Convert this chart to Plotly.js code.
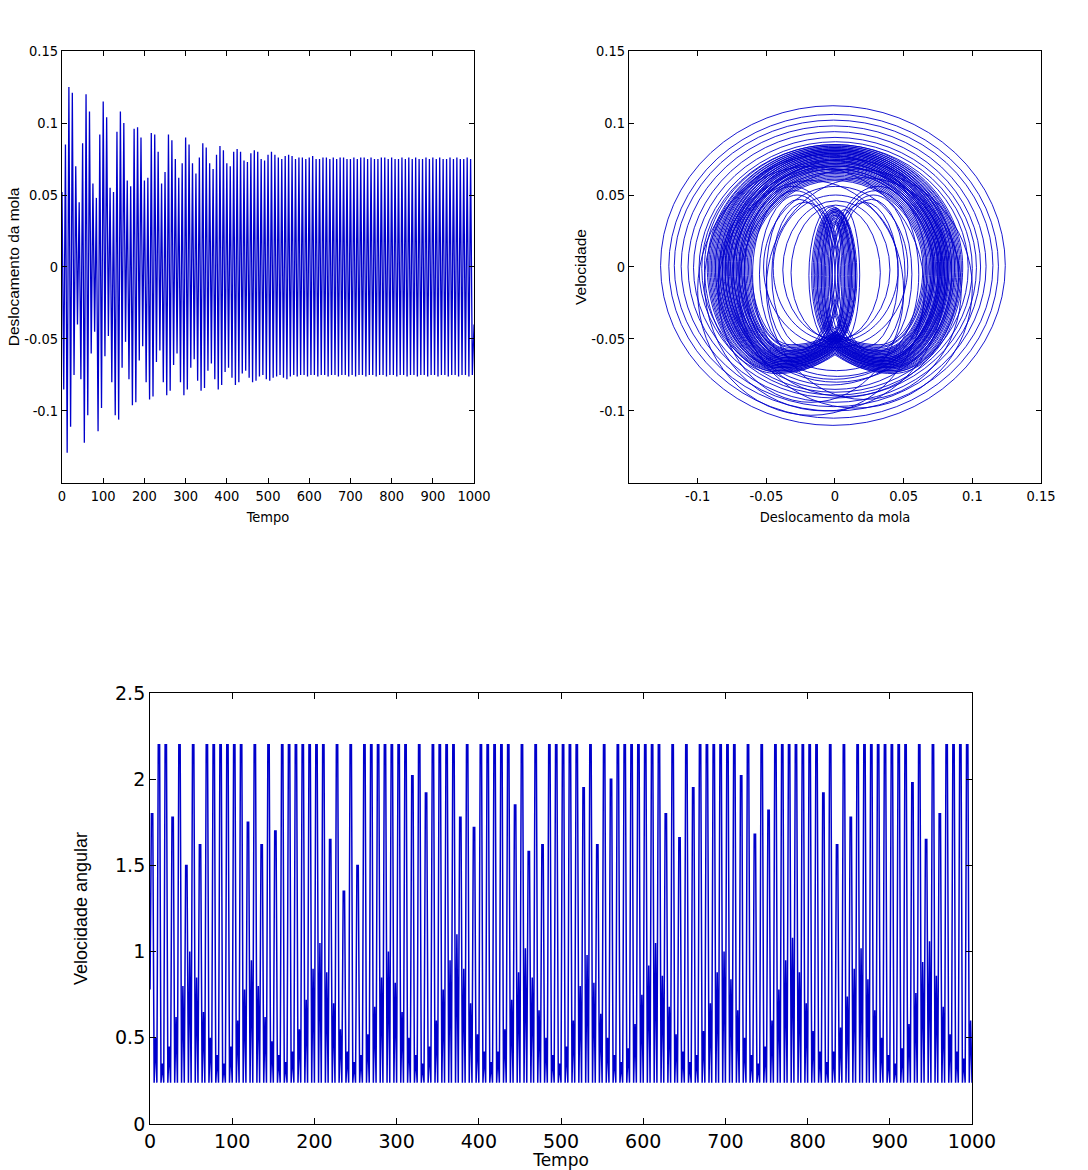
<!DOCTYPE html>
<html><head><meta charset="utf-8">
<script src="https://cdn.plot.ly/plotly-3.0.1.min.js"></script>
<style>html,body{margin:0;padding:0;background:#fff}</style>
</head><body>
<div id="chart" style="width:1088px;height:1170px"></div>
<script>
// ---------------- DATA ----------------
// Deslocamento da mola: maximum and minimum of each oscillation cycle
const tempoFinal = 1000;
const deslocMax = [
 0.052,0.085,0.125,0.121,0.070,0.045,0.086,0.120,0.108,0.058,
 0.048,0.092,0.115,0.104,0.055,0.052,0.094,0.108,0.100,0.060,
 0.056,0.096,0.097,0.090,0.060,0.062,0.093,0.092,0.080,0.058,
 0.066,0.092,0.088,0.075,0.062,0.072,0.090,0.085,0.072,0.065,
 0.076,0.086,0.083,0.072,0.068,0.078,0.084,0.081,0.072,0.070,
 0.080,0.082,0.080,0.074,0.073,0.079,0.081,0.080,0.075,0.074,
 0.078,0.080,0.078,0.076,0.075,0.077,0.078,0.077,0.075,0.076,
 0.076,0.075,0.076,0.077,0.075,0.075,0.076,0.076,0.075,0.076,
 0.075,0.076,0.076,0.075,0.075,0.076,0.075,0.076,0.076,0.075,
 0.076,0.075,0.075,0.076,0.076,0.075,0.076,0.075,0.075,0.076,
 0.075,0.076,0.075,0.076,0.075,0.075,0.076,0.075,0.076,0.075,
 0.076,0.075,0.075,0.076,0.075,0.076,0.075,0.075,0.076,0.075];
const deslocMin = [
 -0.085,-0.129,-0.111,-0.075,-0.040,-0.078,-0.122,-0.103,-0.060,-0.045,
 -0.114,-0.098,-0.062,-0.048,-0.080,-0.103,-0.106,-0.070,-0.052,-0.078,
 -0.096,-0.094,-0.065,-0.055,-0.080,-0.092,-0.090,-0.066,-0.058,-0.080,
 -0.089,-0.086,-0.068,-0.060,-0.080,-0.089,-0.085,-0.070,-0.064,-0.079,
 -0.086,-0.084,-0.072,-0.067,-0.078,-0.085,-0.082,-0.073,-0.070,-0.077,
 -0.082,-0.080,-0.074,-0.072,-0.077,-0.080,-0.079,-0.076,-0.075,-0.078,
 -0.079,-0.077,-0.076,-0.075,-0.077,-0.078,-0.076,-0.075,-0.076,-0.075,
 -0.075,-0.076,-0.075,-0.075,-0.076,-0.075,-0.075,-0.076,-0.075,-0.075,
 -0.076,-0.075,-0.075,-0.076,-0.075,-0.076,-0.075,-0.075,-0.076,-0.075,
 -0.075,-0.076,-0.075,-0.075,-0.076,-0.075,-0.075,-0.076,-0.075,-0.075,
 -0.076,-0.075,-0.075,-0.076,-0.075,-0.075,-0.076,-0.075,-0.075,-0.076,
 -0.075,-0.075,-0.076,-0.075,-0.075,-0.076,-0.075,-0.075,-0.076,-0.075];
const deslocFinal = -0.040;

// Velocidade angular: tall pulse peak (held briefly) and secondary bump of each cycle, common minimum
const omegaInicio = 0.78;
const omegaMin = 0.24;
const omegaPico = [
 1.80,2.20,2.20,1.78,2.20,1.50,2.20,1.62,2.20,2.20,
 2.20,2.20,2.20,2.20,1.75,2.20,1.62,2.20,1.70,2.20,
 2.20,2.20,2.20,2.20,2.20,2.20,1.65,2.20,1.35,2.20,
 1.50,2.20,2.20,2.20,2.20,2.20,2.20,2.20,2.02,2.20,
 1.92,2.20,2.20,2.20,2.20,1.78,2.20,1.72,2.20,2.20,
 2.20,2.20,2.20,1.85,2.20,1.58,2.20,1.62,2.20,2.20,
 2.20,2.20,2.20,1.95,2.20,1.62,2.20,2.00,2.20,2.20,
 2.20,2.20,2.20,2.20,2.20,1.80,2.20,1.66,2.20,1.95,
 2.20,2.20,2.20,2.20,2.20,2.20,2.02,2.20,1.68,2.20,
 1.82,2.20,2.20,2.20,2.20,2.20,2.20,2.20,1.92,2.20,
 1.62,2.20,1.78,2.20,2.20,2.20,2.20,2.20,2.20,2.20,
 2.20,1.98,2.20,1.65,2.20,1.80,2.20,2.20,2.20,2.20];
const omegaBossa = [
 0.50,0.35,0.45,0.62,0.80,1.00,0.85,0.65,0.50,0.40,0.35,0.45,
 0.60,0.78,0.95,0.80,0.62,0.48,0.40,0.36,0.42,0.55,0.72,0.90,
 1.05,0.88,0.70,0.55,0.42,0.36,0.40,0.52,0.68,0.85,1.00,0.82,
 0.65,0.50,0.40,0.35,0.45,0.60,0.78,0.95,1.10,0.90,0.70,0.52,
 0.42,0.36,0.42,0.55,0.72,0.88,1.02,0.85,0.66,0.50,0.40,0.35,
 0.45,0.60,0.80,0.98,0.82,0.64,0.50,0.40,0.36,0.44,0.58,0.75,
 0.92,1.05,0.86,0.68,0.52,0.42,0.36,0.40,0.54,0.70,0.88,1.00,
 0.84,0.66,0.50,0.40,0.35,0.45,0.60,0.78,0.95,1.08,0.88,0.70,
 0.54,0.42,0.36,0.42,0.56,0.74,0.90,1.02,0.84,0.66,0.50,0.40,
 0.35,0.44,0.58,0.76,0.94,1.06,0.86,0.68,0.52,0.42,0.38,0.60];

// Phase portrait: single loops as bounding boxes (x min, x max, v min, v max)
const laçoXmin = [-0.127,-0.121,-0.117,-0.112,-0.107,-0.103,-0.099,-0.097,
  -0.100,-0.070,-0.085,-0.050,-0.095,-0.075,
  -0.066,-0.060,-0.055,-0.050,-0.046,
  -0.004,-0.002,0.000,0.002,-0.003,
  -0.052,-0.045,-0.038,-0.032,
  -0.017,-0.016,-0.015,-0.014,-0.013,-0.013,-0.012,-0.011,-0.010,-0.010,-0.009,-0.008,-0.008,-0.007,-0.006,-0.005,-0.019,-0.004,
  -0.085,-0.080,-0.078,-0.074,-0.082,-0.070];
const laçoXmax = [0.124,0.119,0.115,0.110,0.106,0.103,0.100,0.097,
  0.065,0.100,0.050,0.092,0.080,0.090,
  0.004,0.002,0.000,-0.002,0.003,
  0.067,0.061,0.056,0.051,0.046,
  0.053,0.046,0.040,0.033,
  0.016,0.015,0.015,0.013,0.014,0.012,0.012,0.011,0.011,0.009,0.010,0.008,0.007,0.007,0.006,0.005,0.015,0.018,
  0.085,0.082,0.076,0.078,0.075,0.072];
const laçoVmin = [-0.110,-0.105,-0.100,-0.097,-0.094,-0.091,-0.089,-0.087,
  -0.103,-0.098,-0.094,-0.092,-0.100,-0.090,
  -0.066,-0.063,-0.060,-0.058,-0.056,
  -0.066,-0.063,-0.060,-0.058,-0.056,
  -0.056,-0.052,-0.050,-0.051,
  -0.053,-0.052,-0.051,-0.051,-0.050,-0.050,-0.049,-0.049,-0.048,-0.048,-0.047,-0.046,-0.046,-0.045,-0.044,-0.043,-0.054,-0.051,
  -0.085,-0.080,-0.078,-0.076,-0.082,-0.072];
const laçoVmax = [0.112,0.106,0.102,0.098,0.094,0.090,0.087,0.085,
  0.070,0.068,0.060,0.062,0.078,0.075,
  0.056,0.053,0.050,0.047,0.045,
  0.056,0.053,0.050,0.047,0.045,
  0.056,0.050,0.046,0.043,
  0.041,0.040,0.040,0.039,0.039,0.038,0.038,0.037,0.036,0.036,0.035,0.034,0.033,0.032,0.031,0.030,0.042,0.040,
  0.070,0.072,0.068,0.070,0.074,0.066];

// Phase portrait: dense two-lobed ring (left x, right x, top v, lobe bottom v, notch v, lobe |x|)
const anelXesq = [-0.095,-0.093,-0.092,-0.091,-0.090,-0.089,-0.088,-0.087,-0.087,-0.086,-0.085,-0.084,-0.084,-0.083,-0.082,
  -0.082,-0.081,-0.080,-0.080,-0.079,-0.078,-0.078,-0.077,-0.076,-0.076,-0.075,-0.074,-0.074,-0.073,-0.072,
  -0.072,-0.071,-0.070,-0.070,-0.069,-0.068,-0.068,-0.067,-0.066,-0.066,-0.065,-0.064,-0.063,-0.062,-0.061];
const anelXdir = [0.093,0.092,0.091,0.090,0.089,0.088,0.087,0.087,0.086,0.085,0.085,0.084,0.083,0.083,0.082,
  0.082,0.081,0.081,0.080,0.080,0.079,0.079,0.078,0.078,0.077,0.077,0.076,0.076,0.075,0.075,
  0.074,0.073,0.073,0.072,0.072,0.071,0.071,0.070,0.070,0.069,0.068,0.067,0.066,0.065,0.064];
const anelVtopo = [0.085,0.084,0.084,0.083,0.083,0.082,0.082,0.082,0.081,0.081,0.081,0.080,0.080,0.080,0.079,
  0.079,0.079,0.078,0.078,0.077,0.077,0.077,0.076,0.076,0.075,0.075,0.074,0.074,0.073,0.073,
  0.072,0.071,0.071,0.070,0.069,0.068,0.068,0.067,0.066,0.065,0.064,0.063,0.062,0.061,0.060];
const anelVlobo = [-0.074,-0.073,-0.073,-0.072,-0.072,-0.071,-0.071,-0.070,-0.070,-0.070,-0.069,-0.069,-0.069,-0.068,-0.068,
  -0.068,-0.067,-0.067,-0.067,-0.066,-0.066,-0.066,-0.065,-0.065,-0.065,-0.064,-0.064,-0.064,-0.063,-0.063,
  -0.063,-0.062,-0.062,-0.061,-0.061,-0.060,-0.060,-0.059,-0.059,-0.058,-0.058,-0.057,-0.056,-0.055,-0.054];
const anelVentalhe = [-0.060,-0.058,-0.061,-0.057,-0.060,-0.056,-0.059,-0.055,-0.058,-0.057,-0.054,-0.057,-0.055,-0.056,-0.053,
  -0.056,-0.054,-0.052,-0.055,-0.053,-0.051,-0.054,-0.052,-0.050,-0.053,-0.051,-0.050,-0.052,-0.049,-0.051,
  -0.050,-0.048,-0.050,-0.049,-0.047,-0.049,-0.048,-0.046,-0.048,-0.047,-0.046,-0.047,-0.045,-0.046,-0.045];
const anelXlobo = [0.042,0.041,0.040,0.041,0.039,0.040,0.038,0.040,0.039,0.038,0.040,0.037,0.039,0.038,0.037,
  0.039,0.038,0.036,0.038,0.037,0.036,0.038,0.037,0.035,0.037,0.036,0.035,0.037,0.036,0.035,
  0.036,0.034,0.036,0.035,0.034,0.035,0.034,0.033,0.035,0.034,0.033,0.034,0.032,0.033,0.032];

// tick labels
const tempoTicks = [0,100,200,300,400,500,600,700,800,900,1000];
const deslTicks = [-0.1,-0.05,0,0.05,0.1,0.15];
const deslTickText = ['-0.1','-0.05','0','0.05','0.1','0.15'];
const omegaTicks = [0,0.5,1,1.5,2,2.5];
const omegaTickText = ['0','0.5','1','1.5','2','2.5'];

// ---------------- BUILD ----------------
const azul = '#0000cc';
const nD = deslocMax.length;
const dtD = tempoFinal / (2 * nD);
const tD = [], yD = [];
for (let i = 0; i < nD; i++) {
  tD.push(2 * i * dtD); yD.push(deslocMax[i]);
  tD.push((2 * i + 1) * dtD); yD.push(deslocMin[i]);
}
tD.push(tempoFinal); yD.push(deslocFinal);

// each cycle: pulse peak held over one step, back to minimum, bump, minimum
const nW = omegaPico.length;
const dtW = tempoFinal / (5 * nW);
const tW = [0], yW = [omegaInicio];
for (let i = 0; i < nW; i++) {
  const k = 5 * i;
  tW.push((k + 1) * dtW); yW.push(omegaPico[i]);
  tW.push((k + 2) * dtW); yW.push(omegaPico[i]);
  tW.push((k + 3) * dtW); yW.push(omegaMin);
  tW.push((k + 4) * dtW); yW.push(omegaBossa[i]);
  tW.push((k + 5) * dtW); yW.push(omegaMin);
}

const shapes = [];
const lineStyle = {color: azul, width: 0.9};
for (let i = 0; i < laçoXmin.length; i++) {
  shapes.push({type: 'circle', xref: 'x2', yref: 'y2', x0: laçoXmin[i], x1: laçoXmax[i],
    y0: laçoVmin[i], y1: laçoVmax[i], line: lineStyle, fillcolor: 'rgba(0,0,0,0)'});
}
function omegaPath(L, R, T, B, N, C) {
  const k = 0.55;
  const nb = N + 0.4 * (B - N);
  return 'M 0,' + T +
    ' C ' + (k * R) + ',' + T + ' ' + R + ',' + (k * T) + ' ' + R + ',0' +
    ' C ' + R + ',' + (k * B) + ' ' + (C + k * (R - C)) + ',' + B + ' ' + C + ',' + B +
    ' C ' + (0.5 * C) + ',' + B + ' ' + (0.2 * C) + ',' + nb + ' 0,' + N +
    ' C ' + (-0.2 * C) + ',' + nb + ' ' + (-0.5 * C) + ',' + B + ' ' + (-C) + ',' + B +
    ' C ' + (-C + k * (L + C)) + ',' + B + ' ' + L + ',' + (k * B) + ' ' + L + ',0' +
    ' C ' + L + ',' + (k * T) + ' ' + (k * L) + ',' + T + ' 0,' + T + ' Z';
}
for (let i = 0; i < anelXesq.length; i++) {
  shapes.push({type: 'path', xref: 'x2', yref: 'y2',
    path: omegaPath(anelXesq[i], anelXdir[i], anelVtopo[i], anelVlobo[i], anelVentalhe[i], anelXlobo[i]),
    line: lineStyle, fillcolor: 'rgba(0,0,0,0)'});
}

const narrow = 'Liberation Sans Narrow, Arial Narrow, DejaVu Sans Condensed, sans-serif';
const regular = 'Liberation Sans, Arial, sans-serif';
const smallTick = {family: narrow, size: 14.5, color: '#000'};
const bigTick = {family: 'DejaVu Sans, sans-serif', size: 19, color: '#000'};
const base = {showline: true, linecolor: '#000', linewidth: 1, mirror: 'ticks', ticks: 'inside',
  ticklen: 5, tickcolor: '#000', tickwidth: 1, zeroline: false, showgrid: false, fixedrange: true};

const traces = [
  {type: 'scatter', mode: 'lines', x: tD, y: yD, xaxis: 'x', yaxis: 'y',
   line: {color: azul, width: 1.3}, hoverinfo: 'skip'},
  {type: 'scatter', mode: 'lines', x: [], y: [], xaxis: 'x2', yaxis: 'y2', hoverinfo: 'skip'},
  {type: 'scatter', mode: 'lines', x: tW, y: yW, xaxis: 'x3', yaxis: 'y3',
   line: {color: azul, width: 1.5}, hoverinfo: 'skip'}
];

const layout = {
  width: 1088, height: 1170, margin: {l: 0, r: 0, t: 0, b: 0},
  paper_bgcolor: '#fff', plot_bgcolor: '#fff', showlegend: false,
  xaxis: Object.assign({}, base, {domain: [0.0570, 0.4357], anchor: 'y', range: [0, 1000],
    tickvals: tempoTicks, ticktext: tempoTicks.map(String), tickfont: smallTick,
    title: {text: 'Tempo', font: {family: narrow, size: 14.5, color: '#000'}, standoff: 8}}),
  yaxis: Object.assign({}, base, {domain: [0.5872, 0.9564], anchor: 'x', range: [-0.15, 0.15],
    tickvals: deslTicks, ticktext: deslTickText, tickfont: smallTick,
    title: {text: 'Deslocamento da mola', font: {family: regular, size: 15.5, color: '#000'}, standoff: 0}}),
  xaxis2: Object.assign({}, base, {domain: [0.5781, 0.9568], anchor: 'y2', range: [-0.15, 0.15],
    tickvals: deslTicks, ticktext: deslTickText, tickfont: smallTick,
    title: {text: 'Deslocamento da mola', font: {family: narrow, size: 14.5, color: '#000'}, standoff: 8}}),
  yaxis2: Object.assign({}, base, {domain: [0.5872, 0.9564], anchor: 'x2', range: [-0.15, 0.15],
    tickvals: deslTicks, ticktext: deslTickText, tickfont: smallTick,
    title: {text: 'Velocidade', font: {family: regular, size: 15.5, color: '#000'}, standoff: 0}}),
  xaxis3: Object.assign({}, base, {domain: [0.1379, 0.8934], anchor: 'y3', range: [0, 1000],
    tickvals: tempoTicks, ticktext: tempoTicks.map(String), tickfont: bigTick, ticklen: 6,
    title: {text: 'Tempo', font: {family: 'DejaVu Sans, sans-serif', size: 17, color: '#000'}, standoff: 4}}),
  yaxis3: Object.assign({}, base, {domain: [0.0393, 0.4077], anchor: 'x3', range: [0, 2.5],
    tickvals: omegaTicks, ticktext: omegaTickText, tickfont: bigTick, ticklen: 6,
    title: {text: 'Velocidade angular', font: {family: regular, size: 18, color: '#000'}, standoff: 22}}),
  shapes: shapes
};

Plotly.newPlot('chart', traces, layout, {displayModeBar: false, staticPlot: true});
</script>
</body></html>
